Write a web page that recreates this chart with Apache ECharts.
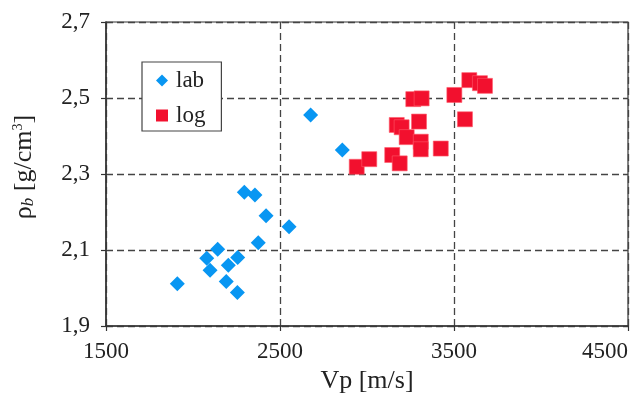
<!DOCTYPE html>
<html>
<head>
<meta charset="utf-8">
<script src="https://cdn.jsdelivr.net/npm/echarts@6/dist/echarts.min.js"></script>
<style>html,body{margin:0;padding:0;background:#fff}#c{width:630px;height:403px}</style>
</head>
<body>
<div id="c"></div>
<script>
// lab measurements: Vp [m/s], rho_b [g/cm3]
const labVp  = [1910, 2079, 2098, 2142, 2203, 2191, 2257, 2255, 2295, 2356, 2375, 2420, 2552, 2676, 2858];
const labRho = [2.011, 2.078, 2.047, 2.102, 2.060, 2.017, 2.080, 1.988, 2.252, 2.245, 2.119, 2.190, 2.161, 2.455, 2.363];
// log measurements
const logVp  = [2941, 3013, 3145, 3188, 3171, 3199, 3228, 3299, 3309, 3309, 3424, 3266, 3314, 3502, 3588, 3649, 3678, 3563];
const logRho = [2.319, 2.339, 2.350, 2.328, 2.429, 2.423, 2.397, 2.438, 2.385, 2.365, 2.367, 2.497, 2.499, 2.508, 2.547, 2.539, 2.532, 2.444];
const seriesNames = ['lab', 'log'];
const xTicks = [1500, 2500, 3500, 4500];
const yTicks = [1.9, 2.1, 2.3, 2.5, 2.7];

const font = 'Liberation Serif';
const pair = (xs, ys) => xs.map((v, i) => [v, ys[i]]);
const chart = echarts.init(document.getElementById('c'), null, {renderer: 'canvas'});
chart.setOption({
  animation: false,
  backgroundColor: '#fff',
  grid: {left: 106, right: 2, top: 22, bottom: 77, containLabel: false, outerBoundsMode: 'none',
    show: true, borderColor: '#333', borderWidth: 1.2, backgroundColor: 'transparent'},
  legend: {
    left: 142, top: 62, orient: 'vertical',
    data: seriesNames,
    itemWidth: 12, itemHeight: 12, itemGap: 12,
    padding: [7, 16, 4, 14],
    borderColor: '#444', borderWidth: 1.2, backgroundColor: '#fff',
    itemStyle: {borderWidth: 0},
    textStyle: {fontFamily: font, fontSize: 23, color: '#222', padding: [0, 0, 0, 3]}
  },
  xAxis: {
    type: 'value', min: xTicks[0], max: xTicks[xTicks.length - 1], interval: xTicks[1] - xTicks[0],
    name: 'Vp [m/s]', nameLocation: 'middle', nameGap: 36,
    nameTextStyle: {fontFamily: font, fontSize: 26, color: '#222'},
    axisLine: {lineStyle: {color: '#333', width: 1.5}},
    axisTick: {show: true, length: 5, lineStyle: {color: '#333', width: 1.2}},
    axisLabel: {fontFamily: font, fontSize: 23, color: '#222', margin: 14, formatter: v => String(v),
      alignMaxLabel: 'right'},
    splitLine: {show: true, lineStyle: {color: '#444', width: 1.3, type: [7, 4]}}
  },
  yAxis: {
    type: 'value', min: yTicks[0], max: yTicks[yTicks.length - 1], interval: 0.2,
    name: '{a|ρ}{b|b}{a| [g/cm}{c|3}{a|]}', nameLocation: 'middle', nameGap: 69, nameRotate: 90,
    nameTextStyle: {
      fontFamily: font, fontSize: 26, color: '#222', padding: [0, 0, 0, 14],
      rich: {
        a: {fontFamily: font, fontSize: 26, color: '#222'},
        b: {fontFamily: font, fontSize: 17, fontStyle: 'italic', color: '#222', verticalAlign: 'bottom'},
        c: {fontFamily: font, fontSize: 14, color: '#222', verticalAlign: 'top'}
      }
    },
    axisLine: {show: true, lineStyle: {color: '#333', width: 1.5}},
    axisTick: {show: true, length: 5, lineStyle: {color: '#333', width: 1.2}},
    axisLabel: {fontFamily: font, fontSize: 23, color: '#222', margin: 16,
      formatter: v => v.toFixed(1).replace('.', ',')},
    splitLine: {show: true, lineStyle: {color: '#444', width: 1.3, type: [7, 4]}}
  },
  series: [
    {name: seriesNames[0], type: 'scatter', symbol: 'diamond', symbolSize: 15,
     itemStyle: {color: '#0896f2', opacity: 1}, data: pair(labVp, labRho)},
    {name: seriesNames[1], type: 'scatter', symbol: 'rect', symbolSize: 15,
     itemStyle: {color: '#f2102e', opacity: 1, borderColor: '#ff5a6a', borderWidth: 0.6}, data: pair(logVp, logRho)}
  ]
});
</script>
</body>
</html>
